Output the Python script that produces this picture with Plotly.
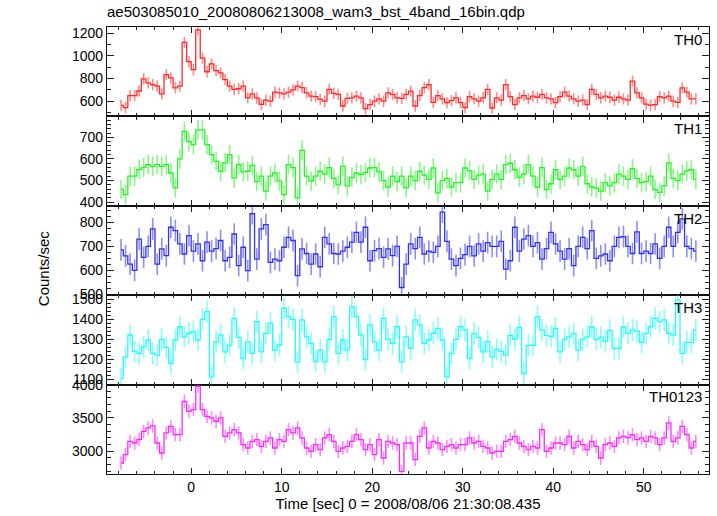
import plotly.graph_objects as go
from plotly.subplots import make_subplots

# time bin centres (s), 0.5 s bins
time_sec = [-7.75 + 0.5 * i for i in range(128)]

TH0 = [563, 543, 650, 650, 690, 797, 762, 747, 733, 665, 835, 806, 718, 733, 1120, 950,
       879, 1229, 981, 860, 930, 870, 850, 790, 733, 704, 710, 733, 630, 665, 630, 572,
       610, 600, 680, 674, 665, 680, 700, 733, 720, 674, 645, 640, 616, 600, 704, 670,
       660, 558, 625, 630, 645, 630, 535, 570, 600, 620, 600, 674, 660, 630, 625, 660,
       689, 558, 650, 720, 747, 590, 650, 620, 587, 605, 630, 587, 543, 640, 620, 600,
       630, 704, 540, 630, 610, 747, 640, 570, 630, 650, 620, 645, 635, 660, 630, 620,
       587, 640, 680, 645, 620, 600, 610, 570, 704, 660, 630, 645, 635, 610, 635, 620,
       610, 777, 674, 630, 575, 565, 570, 640, 630, 645, 600, 590, 718, 680, 620, 620]

TH1 = [459, 435, 520, 520, 551, 560, 574, 566, 574, 566, 574, 535, 466, 600, 728, 680,
       666, 735, 735, 666, 620, 589, 543, 582, 620, 512, 575, 540, 543, 570, 495, 520,
       451, 520, 535, 497, 435, 574, 560, 420, 640, 520, 497, 520, 543, 530, 560, 510,
       480, 566, 475, 515, 535, 528, 538, 558, 560, 540, 500, 470, 520, 495, 520, 466,
       520, 500, 543, 525, 505, 558, 443, 500, 510, 470, 490, 490, 558, 545, 505, 525,
       530, 451, 505, 530, 505, 574, 580, 550, 515, 530, 574, 520, 470, 560, 458, 485,
       550, 505, 520, 558, 550, 520, 566, 485, 470, 465, 451, 490, 475, 490, 530, 520,
       505, 555, 510, 490, 495, 520, 458, 445, 475, 582, 510, 500, 530, 545, 550, 505]

TH2 = [685, 660, 626, 600, 730, 654, 700, 772, 626, 689, 661, 779, 765, 710, 668, 744,
       680, 710, 640, 717, 680, 690, 724, 640, 654, 751, 620, 696, 599, 835, 647, 772,
       790, 633, 647, 640, 696, 737, 724, 578, 689, 670, 626, 668, 615, 737, 710, 670,
       668, 680, 696, 717, 758, 717, 779, 640, 682, 690, 654, 689, 661, 700, 529, 626,
       710, 690, 737, 668, 680, 675, 700, 842, 720, 647, 620, 650, 665, 700, 660, 710,
       680, 715, 700, 700, 720, 605, 640, 779, 680, 730, 744, 700, 715, 647, 690, 758,
       710, 680, 647, 690, 620, 700, 737, 690, 765, 650, 660, 668, 640, 700, 737, 740,
       700, 670, 760, 670, 680, 670, 710, 650, 700, 779, 700, 758, 814, 700, 690, 680]

TH3 = [1105, 1213, 1322, 1240, 1230, 1263, 1297, 1230, 1222, 1300, 1260, 1180, 1297, 1363, 1313, 1330,
       1338, 1297, 1400, 1438, 1113, 1288, 1322, 1238, 1270, 1405, 1310, 1205, 1288, 1230, 1388, 1238,
       1330, 1380, 1247, 1272, 1455, 1413, 1400, 1188, 1397, 1313, 1280, 1190, 1247, 1188, 1300, 1413,
       1230, 1297, 1247, 1463, 1413, 1322, 1200, 1372, 1288, 1247, 1405, 1300, 1280, 1363, 1188, 1313,
       1255, 1397, 1372, 1280, 1297, 1330, 1355, 1297, 1113, 1230, 1300, 1363, 1347, 1205, 1330, 1310,
       1238, 1290, 1213, 1250, 1240, 1222, 1320, 1300, 1360, 1130, 1270, 1270, 1413, 1347, 1320, 1315,
       1355, 1238, 1300, 1313, 1330, 1247, 1300, 1313, 1363, 1300, 1310, 1290, 1345, 1255, 1255, 1363,
       1330, 1347, 1340, 1285, 1330, 1363, 1405, 1388, 1397, 1330, 1322, 1497, 1230, 1285, 1285, 1347]

TH0123 = [2825, 2950, 3150, 3125, 3175, 3300, 3350, 3380, 3125, 2975, 3275, 3375, 3250, 3250, 3750, 3600,
          3625, 3975, 3625, 3525, 3500, 3450, 3500, 3225, 3275, 3325, 3275, 3100, 3050, 3150, 3175, 3075,
          3150, 3200, 3050, 3175, 3150, 3325, 3275, 3350, 3200, 3050, 3000, 3100, 3025, 3200, 3250, 3150,
          3000, 3050, 3075, 3150, 3250, 3175, 3025, 3100, 2950, 3175, 2900, 3150, 3125, 3100, 2700, 3125,
          3125, 2875, 3225, 3350, 3050, 3150, 3125, 3025, 3075, 3100, 3050, 3100, 3100, 3200, 3125, 3150,
          3075, 3050, 2975, 3000, 3000, 3150, 3175, 3225, 3125, 3075, 3025, 3075, 3050, 3325, 3000, 3050,
          3125, 3125, 3100, 3225, 3050, 3150, 3100, 3025, 3150, 3075, 2900, 3100, 3125, 3075, 3200, 3225,
          3200, 3250, 3175, 3200, 3150, 3225, 3200, 3100, 3200, 3425, 3150, 3200, 3375, 3250, 3050, 3150]

series_names = ["TH0", "TH1", "TH2", "TH3", "TH0123"]
series_values = [TH0, TH1, TH2, TH3, TH0123]
series_errors = [50, 45, 45, 55, 100]
line_colors = ["rgb(255,40,40)", "rgb(40,240,40)", "rgb(50,50,235)", "rgb(40,250,250)", "rgb(250,40,250)"]
bar_colors = ["rgba(255,40,40,0.55)", "rgba(40,240,40,0.55)", "rgba(50,50,235,0.55)",
              "rgba(40,250,250,0.55)", "rgba(250,40,250,0.55)"]
y_ranges = [[466, 1255], [383, 797], [497, 868], [1075, 1520], [2660, 4000]]
y_dticks = [200, 100, 100, 100, 500]
y_minor = [100, 20, 25, 20, 100]

x_range = [-9.3, 57.2]

fig = make_subplots(rows=5, cols=1, shared_xaxes=True, vertical_spacing=0)

font_family = "Liberation Sans, Arial, sans-serif"

for k in range(5):
    fig.add_trace(go.Scatter(
        x=time_sec, y=series_values[k], mode="lines",
        line=dict(color=line_colors[k], width=1.3, shape="hvh"),
        error_y=dict(type="constant", value=series_errors[k], thickness=1.6, width=0,
                     color=bar_colors[k]),
        showlegend=False, hoverinfo="skip"), row=k + 1, col=1)

    fig.update_yaxes(row=k + 1, col=1, range=y_ranges[k], dtick=y_dticks[k],
                     ticks="inside", ticklen=7, tickwidth=1, tickcolor="#222",
                     minor=dict(ticks="inside", ticklen=3.5, dtick=y_minor[k], tickcolor="#222"),
                     showline=True, linecolor="#111", linewidth=1.2, mirror="allticks",
                     showgrid=False, zeroline=False,
                     tickfont=dict(size=14, color="black", family=font_family))
    fig.update_xaxes(row=k + 1, col=1, range=x_range, dtick=10,
                     ticks="inside", ticklen=6, tickwidth=1, tickcolor="#222",
                     minor=dict(ticks="inside", ticklen=3, dtick=2, tickcolor="#222"),
                     showline=True, linecolor="#111", linewidth=1.2, mirror="allticks",
                     showgrid=False, zeroline=False,
                     showticklabels=(k == 4),
                     tickfont=dict(size=14, color="black", family=font_family))

    yref = "y domain" if k == 0 else f"y{k + 1} domain"
    fig.add_annotation(text=series_names[k], xref="paper", x=0.992, xanchor="right",
                       yref=yref, y=0.98, yanchor="top", showarrow=False,
                       font=dict(size=15, color="black", family=font_family))

fig.update_xaxes(row=5, col=1,
                 title=dict(text="Time [sec] 0 = 2008/08/06 21:30:08.435", standoff=4,
                            font=dict(size=15, color="black", family=font_family)))

fig.add_annotation(text="Counts/sec", xref="paper", x=-0.105, xanchor="center",
                   yref="paper", y=0.46, yanchor="middle", textangle=-90, showarrow=False,
                   font=dict(size=15, color="black", family=font_family))

fig.update_layout(
    width=717, height=516,
    margin=dict(l=107, r=7, t=27, b=39),
    paper_bgcolor="white", plot_bgcolor="white",
    title=dict(text="ae503085010_20080806213008_wam3_bst_4band_16bin.qdp",
               xref="container", x=107 / 717, xanchor="left",
               yref="container", y=1 - 12 / 516, yanchor="middle",
               font=dict(size=15, color="black", family=font_family)),
)

# remove the browser's default 8 px body margin so the figure fills the window
fig.write_html("out.html",
               config={"displayModeBar": False},
               post_script="document.body.style.margin='0px';document.body.style.overflow='hidden';")
